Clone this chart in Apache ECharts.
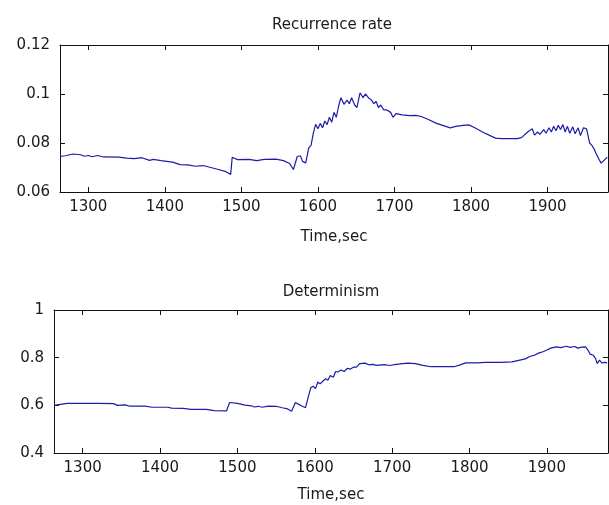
<!DOCTYPE html>
<html lang="en">
<head>
<meta charset="UTF-8">
<title>Recurrence rate / Determinism</title>
<script src="https://cdn.jsdelivr.net/npm/echarts@6.0.0/dist/echarts.min.js"></script>
</head>
<body style="margin:0;background:#fff;">
<div id="chart" style="width:609px;height:505px;"></div>
<script>
    // x ticks shared by both panels
    var timeTicks = [1300, 1400, 1500, 1600, 1700, 1800, 1900];
    var rrTicks = [0.06, 0.08, 0.1, 0.12];
    var detTicks = [0.4, 0.6, 0.8, 1];

    // Recurrence rate
    var rrTime = [1263, 1270, 1280, 1290, 1295, 1300, 1305, 1312, 1320, 1340, 1350, 1360, 1370, 1380, 1385, 1395,
        1410, 1420, 1430, 1440, 1450, 1460, 1470, 1480, 1486, 1488, 1495, 1510, 1520, 1530, 1545, 1555, 1563, 1568,
        1573, 1577, 1580, 1584, 1588, 1591, 1594, 1597, 1600, 1603, 1606, 1609, 1612, 1615, 1618, 1621, 1624, 1627,
        1630, 1634, 1638, 1641, 1644, 1648, 1651, 1655, 1659, 1662, 1666, 1670, 1673, 1676, 1679, 1682, 1686, 1690,
        1695, 1698, 1702, 1710, 1720, 1728, 1735, 1745, 1755, 1765, 1773, 1780, 1790, 1797, 1805, 1815, 1825, 1832,
        1840, 1860, 1866, 1874, 1880, 1883, 1887, 1890, 1895, 1898, 1902, 1905, 1908, 1911, 1914, 1917, 1920, 1923,
        1926, 1929, 1933, 1936, 1940, 1943, 1947, 1951, 1955, 1958, 1961, 1963, 1967, 1970, 1974, 1978];
    var rrValue = [0.0745, 0.0748, 0.0755, 0.0752, 0.0746, 0.0749, 0.0744, 0.0749, 0.0743, 0.0742, 0.0738, 0.0736,
        0.0740, 0.0729, 0.0733, 0.0728, 0.0722, 0.0712, 0.0711, 0.0705, 0.0708, 0.0700, 0.0692, 0.0683, 0.0672,
        0.0742, 0.0732, 0.0733, 0.0728, 0.0733, 0.0734, 0.0728, 0.0716, 0.0692, 0.0745, 0.0748, 0.0725, 0.0718,
        0.0780, 0.0790, 0.0840, 0.0876, 0.0858, 0.0880, 0.0862, 0.0890, 0.0875, 0.0905, 0.0885, 0.0925, 0.0905,
        0.0950, 0.0985, 0.0958, 0.0975, 0.0960, 0.0985, 0.0955, 0.0945, 0.1005, 0.0985, 0.1000, 0.0985, 0.0975,
        0.0960, 0.0970, 0.0945, 0.0955, 0.0935, 0.0935, 0.0925, 0.0905, 0.0920, 0.0915, 0.0912, 0.0913, 0.0908,
        0.0895, 0.0880, 0.0870, 0.0862, 0.0868, 0.0872, 0.0874, 0.0862, 0.0845, 0.0830, 0.0820, 0.0818, 0.0818,
        0.0822, 0.0845, 0.0858, 0.0832, 0.0845, 0.0835, 0.0855, 0.0840, 0.0862, 0.0845, 0.0868, 0.0850, 0.0872,
        0.0855, 0.0875, 0.0845, 0.0868, 0.0840, 0.0866, 0.0838, 0.0862, 0.0830, 0.0862, 0.0858, 0.0800, 0.0790,
        0.0775, 0.0760, 0.0735, 0.0718, 0.0730, 0.0742];

    // Determinism
    var detTime = [1263, 1265, 1280, 1300, 1320, 1340, 1345, 1355, 1360, 1380, 1390, 1410, 1415, 1430, 1440, 1460,
        1470, 1486, 1488, 1490, 1500, 1510, 1518, 1522, 1527, 1532, 1540, 1550, 1558, 1565, 1570, 1575, 1580, 1584,
        1588, 1592, 1595, 1598, 1601, 1604, 1607, 1610, 1614, 1617, 1620, 1624, 1627, 1630, 1634, 1638, 1642, 1646,
        1650, 1654, 1658, 1665, 1670, 1675, 1680, 1690, 1697, 1705, 1720, 1730, 1740, 1750, 1780, 1788, 1795, 1810,
        1820, 1840, 1855, 1865, 1872, 1878, 1885, 1890, 1895, 1900, 1905, 1912, 1918, 1925, 1930, 1936, 1940, 1945,
        1950, 1953, 1956, 1960, 1963, 1965, 1968, 1971, 1975, 1978];
    var detValue = [0.600, 0.608, 0.608, 0.608, 0.608, 0.607, 0.600, 0.602, 0.597, 0.597, 0.592, 0.592, 0.588,
        0.587, 0.583, 0.583, 0.578, 0.577, 0.570, 0.612, 0.608, 0.601, 0.598, 0.593, 0.596, 0.592, 0.597, 0.596,
        0.590, 0.585, 0.575, 0.612, 0.603, 0.596, 0.590, 0.640, 0.675, 0.680, 0.670, 0.698, 0.690, 0.700, 0.712,
        0.705, 0.725, 0.718, 0.742, 0.740, 0.748, 0.742, 0.755, 0.752, 0.760, 0.760, 0.775, 0.777, 0.770, 0.772,
        0.768, 0.771, 0.767, 0.772, 0.777, 0.775, 0.768, 0.762, 0.762, 0.770, 0.778, 0.778, 0.780, 0.780, 0.782,
        0.790, 0.795, 0.805, 0.812, 0.820, 0.825, 0.832, 0.840, 0.845, 0.842, 0.848, 0.843, 0.847, 0.840, 0.844,
        0.845, 0.832, 0.815, 0.810, 0.796, 0.775, 0.790, 0.778, 0.780, 0.778];

    function zip(xs, ys) {
        return xs.map(function (x, i) { return [x, ys[i]]; });
    }

    var font = 'DejaVu Sans';
    var textColor = '#1a1a1a';
    var lineColor = '#1c1ca8';
    var axisLineStyle = { color: '#111', width: 1 };

    function xAxes(grid) {
        return [
            {
                type: 'value', gridIndex: grid, min: 1263, max: 1979, position: 'bottom',
                axisLine: { lineStyle: axisLineStyle },
                axisTick: { inside: true, length: 5, customValues: timeTicks, lineStyle: axisLineStyle },
                axisLabel: {
                    customValues: timeTicks, color: textColor, fontFamily: font, fontSize: 15, margin: 8,
                    formatter: function (v) { return String(v); }
                },
                splitLine: { show: false },
                name: 'Time,sec', nameLocation: 'middle', nameGap: grid === 0 ? 45 : 42,
                nameTextStyle: { color: textColor, fontFamily: font, fontSize: 15, verticalAlign: 'middle' }
            },
            {
                type: 'value', gridIndex: grid, min: 1263, max: 1979, position: 'top',
                axisLine: { lineStyle: axisLineStyle },
                axisTick: { inside: true, length: 5, customValues: timeTicks, lineStyle: axisLineStyle },
                axisLabel: { show: false },
                splitLine: { show: false }
            }
        ];
    }

    function yAxes(grid, lo, hi, step, ticks) {
        return [
            {
                type: 'value', gridIndex: grid, min: lo, max: hi, position: 'left',
                axisLine: { show: true, lineStyle: axisLineStyle },
                axisTick: { show: true, inside: true, length: 5, customValues: ticks, lineStyle: axisLineStyle },
                axisLabel: {
                    customValues: ticks, color: textColor, fontFamily: font, fontSize: 15, margin: 10,
                    formatter: function (v) { return String(+v.toFixed(2)); }
                },
                splitLine: { show: false }
            },
            {
                type: 'value', gridIndex: grid, min: lo, max: hi, position: 'right',
                axisLine: { show: true, lineStyle: axisLineStyle },
                axisTick: { show: true, inside: true, length: 5, customValues: ticks, lineStyle: axisLineStyle },
                axisLabel: { show: false },
                splitLine: { show: false }
            }
        ];
    }

    var option = {
        backgroundColor: '#fff',
        animation: false,
        title: [
            { text: 'Recurrence rate', left: 327, top: 13, textAlign: 'center',
              textStyle: { fontFamily: font, fontSize: 15, fontWeight: 'normal', color: textColor } },
            { text: 'Determinism', left: 326, top: 280, textAlign: 'center',
              textStyle: { fontFamily: font, fontSize: 15, fontWeight: 'normal', color: textColor } }
        ],
        grid: [
            { left: 60, top: 45, width: 548, height: 147 },
            { left: 54, top: 310, width: 554, height: 143 }
        ],
        xAxis: xAxes(0).concat(xAxes(1)),
        yAxis: yAxes(0, 0.06, 0.12, 0.02, rrTicks).concat(yAxes(1, 0.4, 1, 0.2, detTicks)),
        series: [
            {
                type: 'line', xAxisIndex: 0, yAxisIndex: 0, data: zip(rrTime, rrValue),
                showSymbol: false, lineStyle: { color: lineColor, width: 1.2 }, clip: true
            },
            {
                type: 'line', xAxisIndex: 2, yAxisIndex: 2, data: zip(detTime, detValue),
                showSymbol: false, lineStyle: { color: lineColor, width: 1.2 }, clip: true
            }
        ]
    };

    var myChart = echarts.init(document.getElementById('chart'));
    myChart.setOption(option);
</script>
</body>
</html>
